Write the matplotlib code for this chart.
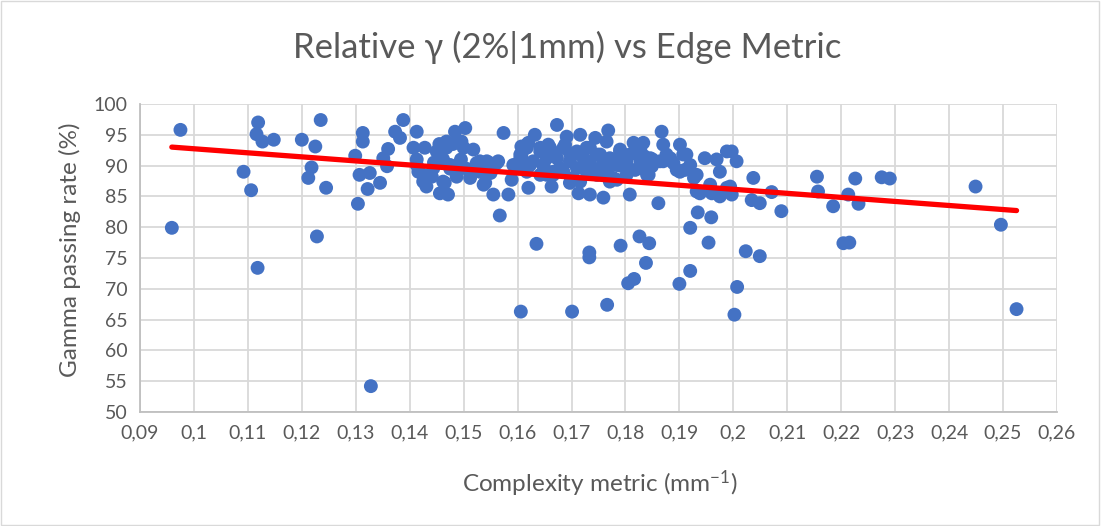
import numpy as np
import matplotlib
matplotlib.use("Agg")
import matplotlib.pyplot as plt
from matplotlib.ticker import FuncFormatter, MultipleLocator
from matplotlib.patches import Rectangle

plt.rcParams['font.family'] = ['Lato', 'DejaVu Sans']
plt.rcParams['mathtext.default'] = 'regular'

TITLE = "Relative γ (2%|1mm) vs Edge Metric"
X_LABEL = "Complexity metric (mm$^{-1}$)"
Y_LABEL = "Gamma passing rate (%)"

# complexity metric (mm^-1) per plan
complexity = [
    0.0959, 0.0975, 0.1092, 0.1106, 0.1119, 0.1116, 0.1127, 0.1148, 0.1118, 0.1200,
    0.1235, 0.1225, 0.1218, 0.1212, 0.1245, 0.1228, 0.1299, 0.1313, 0.1313, 0.1307,
    0.1304, 0.1322, 0.1326, 0.1328, 0.1345, 0.1360, 0.1358, 0.1351, 0.1373, 0.1382,
    0.1388, 0.1413, 0.1407, 0.1428, 0.1413, 0.1416, 0.1425, 0.1431, 0.1441, 0.1450,
    0.1468, 0.1462, 0.1484, 0.1503, 0.1496, 0.1518, 0.1465, 0.1471, 0.1456, 0.1487,
    0.1512, 0.1524, 0.1543, 0.1561, 0.1540, 0.1555, 0.1583, 0.1567, 0.1589, 0.1574,
    0.1607, 0.1607, 0.1601, 0.1620, 0.1445, 0.1475, 0.1495, 0.1505, 0.1480, 0.1455,
    0.1530, 0.1550,
    0.1606, 0.1701, 0.1766, 0.1635, 0.1733, 0.1733, 0.1791, 0.1826, 0.1844, 0.1838,
    0.1805, 0.1816, 0.1900, 0.1920, 0.2007, 0.2002, 0.2023, 0.2049, 0.1920, 0.1954,
    0.1934, 0.1959, 0.2204, 0.2215, 0.2525, 0.2496, 0.2449,
    0.1663, 0.1673, 0.1691, 0.1716, 0.1713, 0.1734, 0.1759, 0.1744, 0.1768, 0.1765,
    0.1808, 0.1861, 0.1867, 0.1870, 0.1901, 0.1947, 0.1969, 0.1932, 0.1957, 0.1938,
    0.1960, 0.1997, 0.2006, 0.1975, 0.1994, 0.1997, 0.1975, 0.2037, 0.2034, 0.2049,
    0.2071, 0.2089, 0.2155, 0.2157, 0.2185, 0.2213, 0.2226, 0.2232, 0.2275, 0.2290,
    0.1605, 0.1617, 0.1632, 0.1642, 0.1657, 0.1654, 0.1663, 0.1629, 0.1648, 0.1697,
    0.1710, 0.1728, 0.1741, 0.1697, 0.1716, 0.1753, 0.1765, 0.1771, 0.1790, 0.1815,
    0.1828, 0.1802, 0.1828, 0.1818, 0.1849, 0.1843, 0.1784, 0.1870, 0.1889, 0.1907,
    0.1876, 0.1910, 0.1901, 0.1654, 0.1666, 0.1678, 0.1688, 0.1703, 0.1728, 0.1753,
    0.1759, 0.1765, 0.1747, 0.1734, 0.1611, 0.1620, 0.1850, 0.1835, 0.1790, 0.1795,
    0.1775,
    0.1617, 0.1642, 0.1660, 0.1605, 0.1623, 0.1648, 0.1673, 0.1685, 0.1697, 0.1710,
    0.1722, 0.1734, 0.1747, 0.1759, 0.1771, 0.1784, 0.1796, 0.1728, 0.1753, 0.1685,
    0.1666, 0.1642, 0.1617, 0.1703, 0.1777, 0.1802,
    0.1833, 0.1790, 0.1808, 0.1828, 0.1846, 0.1864, 0.1883, 0.1913, 0.1920, 0.1895,
    0.1828, 0.1802, 0.1840, 0.1927, 0.1988, 0.1932, 0.1988,
    0.1468, 0.1500, 0.1530, 0.1549, 0.1564, 0.1413, 0.1425, 0.1462, 0.1444, 0.1475,
    0.1493, 0.1537, 0.1592,
]

# relative gamma passing rate (%) per plan
passing_rate = [
    79.9, 95.8, 89.0, 86.0, 97.0, 95.1, 93.9, 94.2, 73.4, 94.2,
    97.4, 93.1, 89.7, 88.0, 86.4, 78.5, 91.6, 95.3, 93.9, 88.5,
    83.8, 86.2, 88.8, 54.2, 87.2, 92.7, 89.9, 91.2, 95.5, 94.5,
    97.4, 95.5, 92.9, 92.9, 91.0, 89.0, 87.4, 86.6, 88.2, 92.3,
    92.9, 91.0, 95.5, 96.1, 93.9, 92.6, 87.2, 85.3, 85.5, 88.2,
    88.0, 90.4, 90.7, 90.4, 87.2, 85.3, 85.3, 81.9, 87.7, 95.3,
    93.1, 91.5, 90.1, 86.4, 90.5, 89.5, 91.0, 89.5, 93.5, 93.5,
    89.0, 88.8,
    66.3, 66.3, 67.4, 77.3, 75.9, 75.1, 77.0, 78.5, 77.4, 74.2,
    70.9, 71.6, 70.8, 72.9, 70.3, 65.8, 76.1, 75.3, 79.9, 77.5,
    82.4, 81.6, 77.4, 77.5, 66.7, 80.4, 86.6,
    86.6, 96.6, 94.7, 95.0, 85.5, 85.3, 84.8, 94.5, 95.7, 93.9,
    85.3, 83.9, 95.5, 93.4, 93.4, 91.2, 91.0, 88.5, 86.9, 85.5,
    85.5, 92.3, 90.7, 89.0, 86.6, 85.3, 85.0, 88.0, 84.4, 83.9,
    85.7, 82.6, 88.2, 85.8, 83.4, 85.3, 87.9, 83.8, 88.1, 87.9,
    91.8, 93.4, 95.0, 92.9, 93.4, 91.2, 92.3, 90.7, 89.9, 92.0,
    89.6, 89.0, 89.0, 87.2, 87.4, 89.6, 89.0, 87.4, 92.6, 93.7,
    93.1, 90.7, 90.7, 89.3, 89.9, 88.5, 87.7, 90.7, 90.4, 91.8,
    91.8, 89.3, 89.0, 88.5, 89.0, 89.6, 93.4, 91.8, 92.9, 91.8,
    90.1, 88.5, 88.5, 90.7, 92.6, 93.7, 91.0, 91.5, 90.0, 91.5,
    91.0,
    92.9, 92.3, 92.9, 91.2, 90.1, 90.1, 91.2, 92.9, 90.7, 92.3,
    91.2, 92.9, 91.8, 90.7, 91.2, 90.1, 91.2, 89.6, 89.0, 89.0,
    88.5, 88.5, 89.0, 88.0, 88.0, 88.5,
    93.7, 92.3, 91.8, 92.3, 91.2, 90.7, 91.2, 91.8, 90.1, 89.3,
    89.6, 90.1, 88.5, 88.0, 92.3, 85.8, 86.4,
    93.9, 92.9, 90.7, 90.4, 90.7, 90.1, 88.5, 87.4, 89.6, 90.1,
    90.1, 86.9, 90.1,
]

x = np.array(complexity)
y = np.array(passing_rate)

W, H = 1101, 526
fig = plt.figure(figsize=(W / 100, H / 100), dpi=100)
ax = fig.add_axes([140 / W, 1 - 412 / H, 917 / W, 308 / H])

grid_col = "#D9D9D9"
text_col = "#595959"

ax.scatter(x, y, s=100, color="#4472C4", edgecolors="none", zorder=3)

# linear least-squares trendline over the data range
slope, intercept = np.polyfit(x, y, 1)
xt = np.array([x.min(), x.max()])
ax.plot(xt, slope * xt + intercept, color="#FF0000", lw=3.8, zorder=4,
        solid_capstyle="round")

ax.set_xlim(0.09, 0.26)
ax.set_ylim(50, 100)
ax.xaxis.set_major_locator(MultipleLocator(0.01))
ax.yaxis.set_major_locator(MultipleLocator(5))


def comma_fmt(v, _pos):
    s = f"{v:.2f}".rstrip("0").rstrip(".")
    return s.replace(".", ",")


ax.xaxis.set_major_formatter(FuncFormatter(comma_fmt))
ax.grid(True, color=grid_col, lw=1.3, zorder=0)
ax.set_axisbelow(True)
for side in ("top", "right"):
    ax.spines[side].set_visible(False)
for side in ("left", "bottom"):
    ax.spines[side].set_color("#BFBFBF")
    ax.spines[side].set_linewidth(1.3)
ax.tick_params(length=0, labelsize=14, colors=text_col, pad=9)

fig.text(567 / W, 1 - 47 / H, TITLE, fontsize=25, color=text_col,
         ha="center", va="center")
fig.text(600 / W, 1 - 484 / H, X_LABEL, fontsize=17.5, color=text_col,
         ha="center", va="center")
fig.text(70 / W, 1 - 250 / H, Y_LABEL, fontsize=17.5, color=text_col,
         ha="center", va="center", rotation=90)

fig.patches.append(Rectangle((0.001, 0.002), 0.997, 0.996, transform=fig.transFigure,
                             fill=False, edgecolor="#D9D9D9", lw=1.0))

fig.savefig("out.png", dpi=100)
